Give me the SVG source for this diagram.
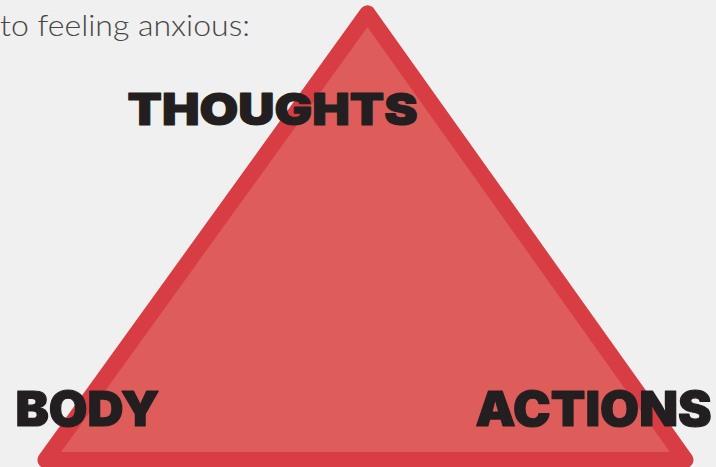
<svg xmlns="http://www.w3.org/2000/svg" width="716" height="467" viewBox="0 0 716 467">
  <style>
    .intro { font-family: Lato, "Noto Sans", sans-serif; font-weight: 300; font-size: 30px; fill: #454545; }
    .label { font-family: Inter, Roboto, "Liberation Sans", sans-serif; font-weight: 900; fill: #231f20; stroke: #231f20; stroke-width: 1.2; stroke-linejoin: round; }
    .tri { fill: #de5d5b; stroke: #d73d43; stroke-width: 16; stroke-linejoin: round; }
  </style>
  <rect width="716" height="467" fill="#eff0ef"/>
  <text class="intro" x="0" y="36" textLength="250" lengthAdjust="spacingAndGlyphs">to feeling anxious:</text>
  <!-- the triangle, with a heavy rounded outline -->
  <g id="triangle">
    <polygon class="tri" points="367.5,13.3 685.5,460 45.4,460"/>
  </g>
  <g id="thoughts">
    <text class="label" x="127.5" y="124.5" font-size="44" textLength="290" lengthAdjust="spacingAndGlyphs">THOUGHTS</text>
  </g>
  <g id="body">
    <text class="label" x="15.5" y="425.5" font-size="48" textLength="144" lengthAdjust="spacingAndGlyphs">BODY</text>
  </g>
  <g id="actions">
    <text class="label" x="475.5" y="425.5" font-size="48" textLength="236" lengthAdjust="spacingAndGlyphs">ACTIONS</text>
  </g>
</svg>
